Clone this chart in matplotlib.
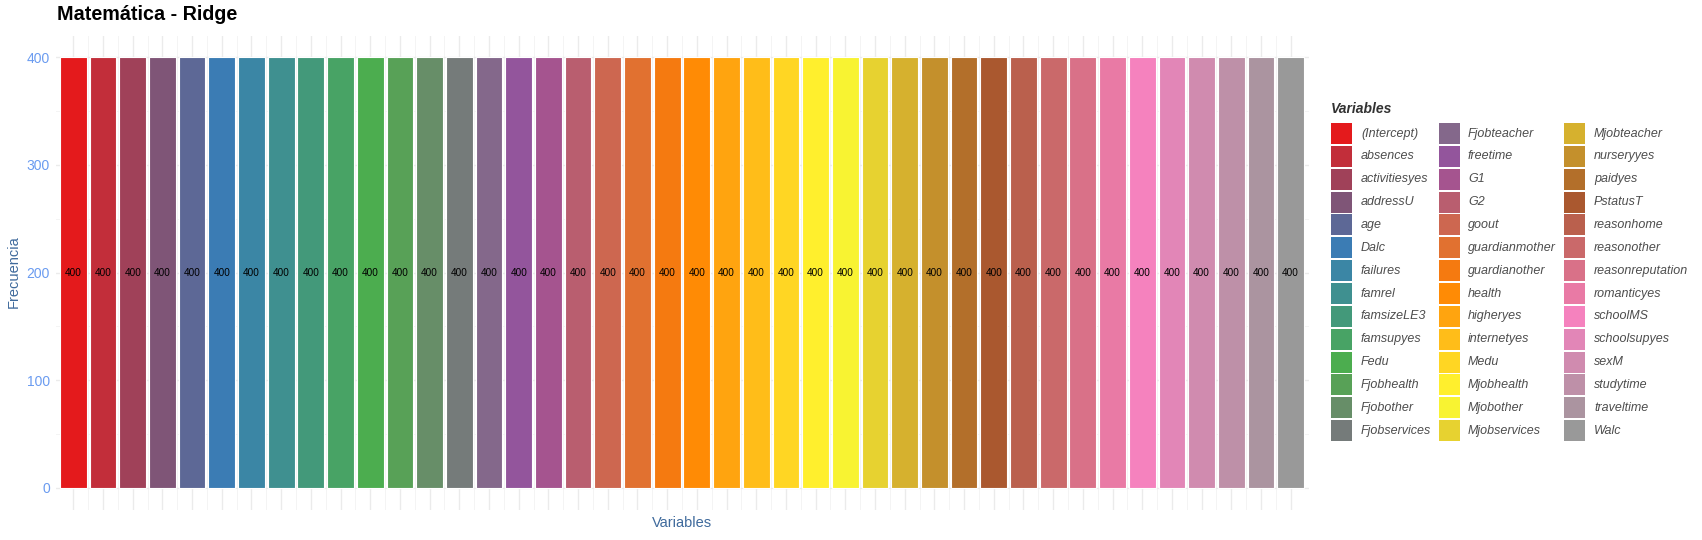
import numpy as np
import matplotlib
matplotlib.use("Agg")
import matplotlib.pyplot as plt
from matplotlib.patches import Rectangle

plt.rcParams['font.family'] = ['Liberation Sans', 'DejaVu Sans']

variables = ["(Intercept)", "absences", "activitiesyes", "addressU", "age", "Dalc",
             "failures", "famrel", "famsizeLE3", "famsupyes", "Fedu", "Fjobhealth",
             "Fjobother", "Fjobservices", "Fjobteacher", "freetime", "G1", "G2",
             "goout", "guardianmother", "guardianother", "health", "higheryes",
             "internetyes", "Medu", "Mjobhealth", "Mjobother", "Mjobservices",
             "Mjobteacher", "nurseryyes", "paidyes", "PstatusT", "reasonhome",
             "reasonother", "reasonreputation", "romanticyes", "schoolMS",
             "schoolsupyes", "sexM", "studytime", "traveltime", "Walc"]
frecuencia = [400] * 42

# paleta Set1 estirada a 42 colores (como colorRampPalette en R)
set1 = ["#E41A1C", "#377EB8", "#4DAF4A", "#984EA3", "#FF7F00",
        "#FFFF33", "#A65628", "#F781BF", "#999999"]
anchors = np.array([matplotlib.colors.to_rgb(c) for c in set1])
t = np.linspace(0, len(set1) - 1, len(variables))
colores = [tuple(np.interp(ti, np.arange(len(set1)), anchors[:, k]) for k in range(3))
           for ti in t]

W, H = 1702, 540
fig = plt.figure(figsize=(W / 100, H / 100), dpi=100)
ax = fig.add_axes([55.5 / W, 1 - 509.5 / H, (1308.5 - 55.5) / W, (509.5 - 35.5) / H])

x = np.arange(1, len(variables) + 1)
ax.bar(x, frecuencia, width=0.9, color=colores, edgecolor="white", linewidth=0.8, zorder=2)
for xi, v in zip(x, frecuencia):
    ax.text(xi, v / 2, str(v), ha="center", va="center", fontsize=7.2, color="black", zorder=3)

ax.set_xlim(0.4, len(variables) + 0.6)
ax.set_ylim(-20, 420)
ax.set_yticks([0, 100, 200, 300, 400])
ax.set_yticks([50, 150, 250, 350], minor=True)
ax.set_xticks(x)
ax.set_xticks(x[:-1] + 0.5, minor=True)
ax.set_xticklabels([])
ax.grid(which="major", color="#EBEBEB", linewidth=1.0, zorder=0)
ax.grid(which="minor", color="#F2F2F2", linewidth=0.6, zorder=0)
ax.tick_params(which="both", length=0)
ax.tick_params(axis="y", labelsize=10, labelcolor="#6A9BF0", pad=4)
for s in ax.spines.values():
    s.set_visible(False)
ax.set_axisbelow(True)

fig.text(57 / W, 1 - 15 / H, "Matemática - Ridge", fontsize=14.2, fontweight="bold",
         ha="left", va="center")
fig.text(14 / W, 1 - 272 / H, "Frecuencia", rotation=90, fontsize=10.5,
         color="#3F6A9C", ha="center", va="center")
fig.text(682 / W, 1 - 523 / H, "Variables", fontsize=10.5, color="#3F6A9C",
         ha="center", va="center")

# leyenda a mano (3 columnas x 14 filas)
fig.text(1331 / W, 1 - 109 / H, "Variables", fontsize=10, fontweight="bold",
         fontstyle="italic", color="#333333", ha="left", va="center")
col_key = [1331, 1439, 1564]
col_lab = [1361, 1468, 1594]
y0, dy, ks = 123, 22.86, 21
for i, (nombre, c) in enumerate(zip(variables, colores)):
    col, fila = divmod(i, 14)
    ytop = y0 + fila * dy
    fig.add_artist(Rectangle((col_key[col] / W, 1 - (ytop + ks) / H), ks / W, ks / H,
                             transform=fig.transFigure, facecolor=c, edgecolor="none"))
    fig.text(col_lab[col] / W, 1 - (ytop + ks / 2) / H, nombre, fontsize=9,
             fontstyle="italic", color="#4D4D4D", ha="left", va="center")

fig.savefig("out.png", dpi=100, facecolor="white")
